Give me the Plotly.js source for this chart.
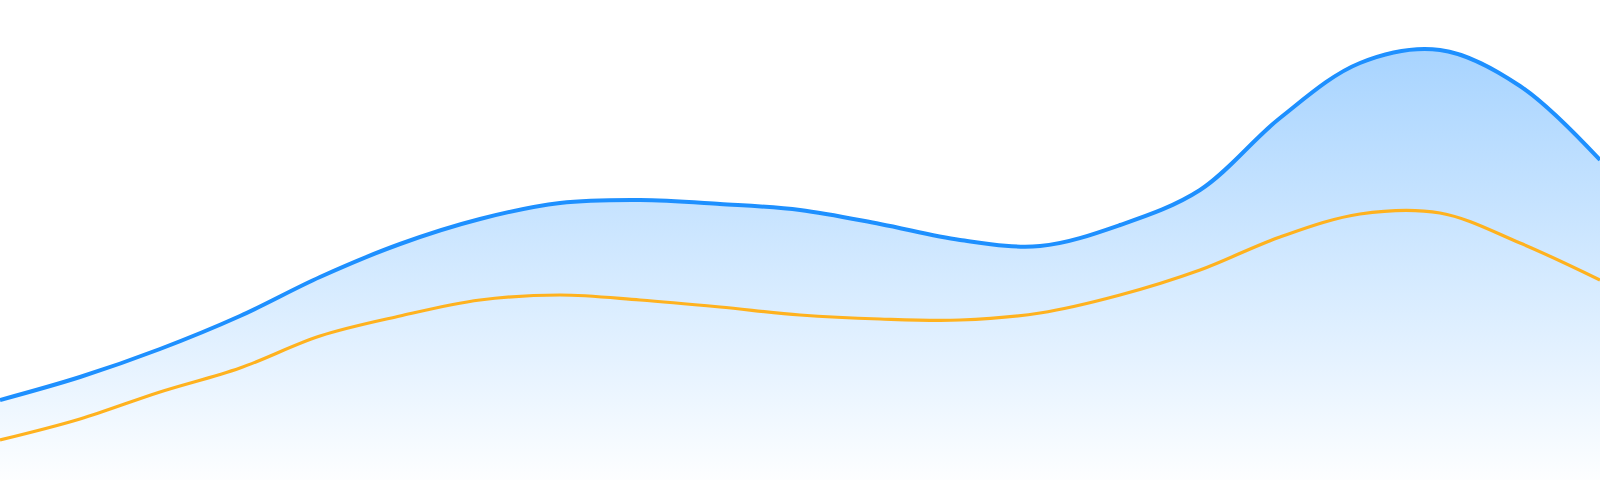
<!DOCTYPE html>
<html>
<head>
<meta charset="utf-8">
<script src="https://cdn.plot.ly/plotly-3.0.1.min.js"></script>
<style>html,body{margin:0;padding:0;background:#fff;}#chart{width:1600px;height:480px;}</style>
</head>
<body>
<div id="chart"></div>
<script>
const xPositions = [0, 80, 160, 240, 320, 400, 480, 560, 640, 720, 800, 880, 960, 1040, 1120, 1200, 1280, 1360, 1440, 1520, 1600];
const blueSeries = [80, 103, 131, 164, 203, 236, 261, 277, 280, 276, 270, 256, 240, 234, 255, 290, 362, 417, 430, 394, 320];
const orangeSeries = [40, 61, 88, 112, 144, 164, 180, 185, 180, 173, 165, 161, 160, 167, 185, 210, 243, 266, 267, 237, 200];

const traces = [
  {
    x: xPositions, y: blueSeries, type: 'scatter', mode: 'lines',
    line: {color: '#1e90ff', width: 4, shape: 'spline', smoothing: 1},
    fill: 'tozeroy',
    fillgradient: {type: 'vertical', start: 0, stop: 432,
      colorscale: [[0, 'rgba(30,144,255,0.01)'], [1, 'rgba(30,144,255,0.39)']]},
    hoverinfo: 'skip'
  },
  {
    x: xPositions, y: orangeSeries, type: 'scatter', mode: 'lines',
    line: {color: '#ffb21f', width: 3.2, shape: 'spline', smoothing: 1},
    hoverinfo: 'skip'
  }
];

const layout = {
  width: 1600, height: 480,
  margin: {l: 0, r: 0, t: 0, b: 0, pad: 0},
  paper_bgcolor: '#ffffff', plot_bgcolor: '#ffffff',
  showlegend: false,
  xaxis: {range: [0, 1600], visible: false, fixedrange: true},
  yaxis: {range: [0, 480], visible: false, fixedrange: true}
};

Plotly.newPlot('chart', traces, layout, {displayModeBar: false, staticPlot: true});
</script>
</body>
</html>
